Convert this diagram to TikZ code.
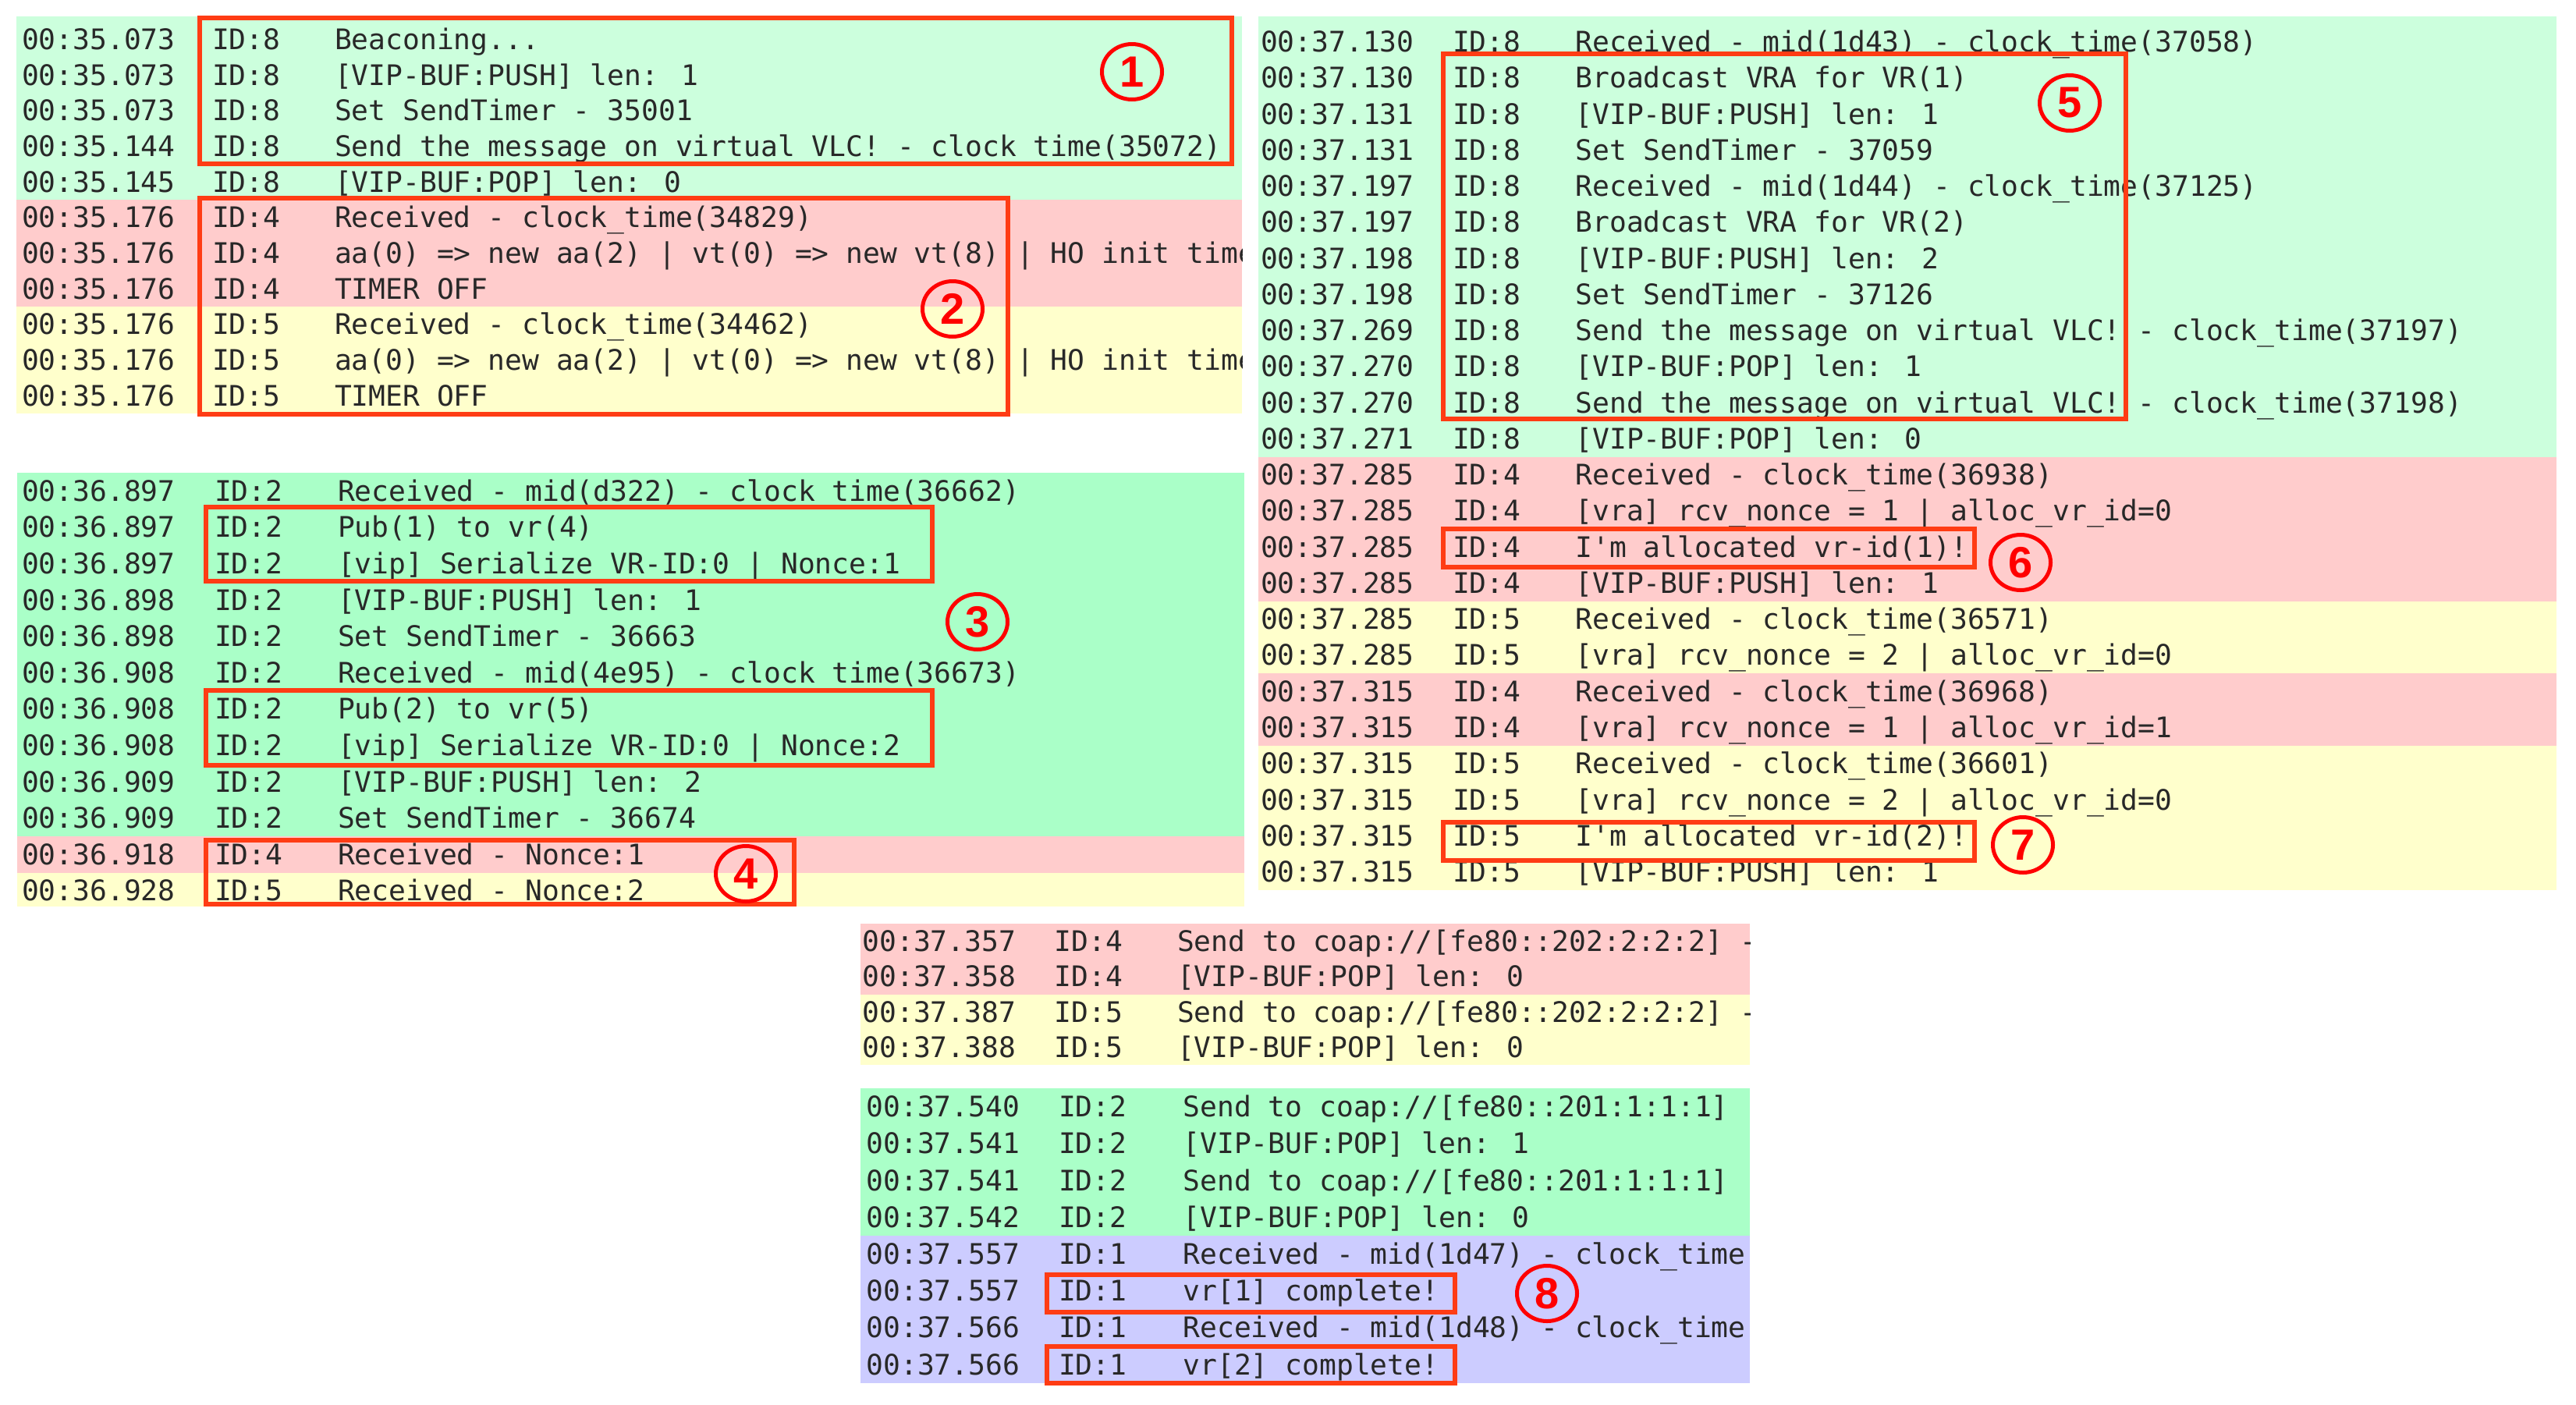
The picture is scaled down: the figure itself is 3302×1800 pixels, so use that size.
\documentclass[tikz,border=0pt]{standalone}
\usepackage{fontspec}
\usetikzlibrary{shapes.geometric}
\newfontfamily\logfont{DejaVu Sans Mono}
\newfontfamily\markfont{Liberation Sans}
\definecolor{bgGa}{RGB}{204,255,221}
\definecolor{bgGb}{RGB}{170,255,200}
\definecolor{bgR}{RGB}{255,204,204}
\definecolor{bgY}{RGB}{255,255,204}
\definecolor{bgB}{RGB}{204,204,255}
\definecolor{boxred}{RGB}{255,60,20}
\definecolor{markred}{RGB}{255,0,0}
\definecolor{logink}{RGB}{40,40,40}
\tikzset{
  logtext/.style={anchor=base west, inner sep=0pt, outer sep=0pt, text=logink,
    font=\logfont\fontsize{36.3}{40}\selectfont},
  hlbox/.style={draw=boxred, line width=6.5pt},
  numbadge/.style={ellipse, draw=markred, line width=5pt, minimum width=77pt,
    minimum height=71pt, inner sep=0pt, text=markred,
    font=\markfont\bfseries\fontsize{56}{60}\selectfont},
}
\newcommand\lrow[4]{%
  \pgfmathsetmacro\rowY{\rowZ+(#1-0.5)*\rowH+13}%
  \node[logtext] (\blk-#1-t) at (\colTs,\rowY) {#2};%
  \node[logtext] (\blk-#1-i) at (\colId,\rowY) {#3};%
  \node[logtext] (\blk-#1-m) at (\colMsg,\rowY) {#4};%
}
\begin{document}
\begin{tikzpicture}[x=1pt,y=-1pt]
\useasboundingbox (0,0) rectangle (3302,1800);
\fill[white] (0,0) rectangle (3302,1800);

% ---------------- Block A (top left)
\begin{scope}
\clip (21,21) rectangle (1592,530);
\fill[bgGa] (21,21) rectangle (1592,256);
\fill[bgR] (21,256) rectangle (1592,393);
\fill[bgY] (21,393) rectangle (1592,530);
\def\colTs{28}\def\colId{272}\def\colMsg{429}\def\rowZ{27.5}\def\rowH{45.7}\def\blk{a}
\lrow{1}{00:35.073}{ID:8}{Beaconing...}
\lrow{2}{00:35.073}{ID:8}{[VIP-BUF:PUSH] len: 1}
\lrow{3}{00:35.073}{ID:8}{Set SendTimer - 35001}
\lrow{4}{00:35.144}{ID:8}{Send the message on virtual VLC! - clock\_time(35072)}
\lrow{5}{00:35.145}{ID:8}{[VIP-BUF:POP] len: 0}
\lrow{6}{00:35.176}{ID:4}{Received - clock\_time(34829)}
\lrow{7}{00:35.176}{ID:4}{aa(0) => new aa(2) | vt(0) => new vt(8) | HO init time}
\lrow{8}{00:35.176}{ID:4}{TIMER OFF}
\lrow{9}{00:35.176}{ID:5}{Received - clock\_time(34462)}
\lrow{10}{00:35.176}{ID:5}{aa(0) => new aa(2) | vt(0) => new vt(8) | HO init time}
\lrow{11}{00:35.176}{ID:5}{TIMER OFF}
\end{scope}

% ---------------- Block B (lower left)
\begin{scope}
\clip (22,606) rectangle (1595,1162);
\fill[bgGb] (22,606) rectangle (1595,1072);
\fill[bgR] (22,1072) rectangle (1595,1118.6);
\fill[bgY] (22,1118.6) rectangle (1595,1162);
\def\colTs{28}\def\colId{275}\def\colMsg{433}\def\rowZ{606}\def\rowH{46.6}\def\blk{b}
\lrow{1}{00:36.897}{ID:2}{Received - mid(d322) - clock\_time(36662)}
\lrow{2}{00:36.897}{ID:2}{Pub(1) to vr(4)}
\lrow{3}{00:36.897}{ID:2}{[vip] Serialize VR-ID:0 | Nonce:1}
\lrow{4}{00:36.898}{ID:2}{[VIP-BUF:PUSH] len: 1}
\lrow{5}{00:36.898}{ID:2}{Set SendTimer - 36663}
\lrow{6}{00:36.908}{ID:2}{Received - mid(4e95) - clock\_time(36673)}
\lrow{7}{00:36.908}{ID:2}{Pub(2) to vr(5)}
\lrow{8}{00:36.908}{ID:2}{[vip] Serialize VR-ID:0 | Nonce:2}
\lrow{9}{00:36.909}{ID:2}{[VIP-BUF:PUSH] len: 2}
\lrow{10}{00:36.909}{ID:2}{Set SendTimer - 36674}
\lrow{11}{00:36.918}{ID:4}{Received - Nonce:1}
\lrow{12}{00:36.928}{ID:5}{Received - Nonce:2}
\end{scope}

% ---------------- Block C (right)
\begin{scope}
\clip (1613,21) rectangle (3277,1140.7);
\fill[bgGa] (1613,21) rectangle (3277,585.5);
\fill[bgR] (1613,585.5) rectangle (3277,770.6);
\fill[bgY] (1613,770.6) rectangle (3277,863.1);
\fill[bgR] (1613,863.1) rectangle (3277,955.6);
\fill[bgY] (1613,955.6) rectangle (3277,1140.7);
\def\colTs{1616}\def\colId{1862}\def\colMsg{2019.5}\def\rowZ{30.4}\def\rowH{46.26}\def\blk{c}
\lrow{1}{00:37.130}{ID:8}{Received - mid(1d43) - clock\_time(37058)}
\lrow{2}{00:37.130}{ID:8}{Broadcast VRA for VR(1)}
\lrow{3}{00:37.131}{ID:8}{[VIP-BUF:PUSH] len: 1}
\lrow{4}{00:37.131}{ID:8}{Set SendTimer - 37059}
\lrow{5}{00:37.197}{ID:8}{Received - mid(1d44) - clock\_time(37125)}
\lrow{6}{00:37.197}{ID:8}{Broadcast VRA for VR(2)}
\lrow{7}{00:37.198}{ID:8}{[VIP-BUF:PUSH] len: 2}
\lrow{8}{00:37.198}{ID:8}{Set SendTimer - 37126}
\lrow{9}{00:37.269}{ID:8}{Send the message on virtual VLC! - clock\_time(37197)}
\lrow{10}{00:37.270}{ID:8}{[VIP-BUF:POP] len: 1}
\lrow{11}{00:37.270}{ID:8}{Send the message on virtual VLC! - clock\_time(37198)}
\lrow{12}{00:37.271}{ID:8}{[VIP-BUF:POP] len: 0}
\lrow{13}{00:37.285}{ID:4}{Received - clock\_time(36938)}
\lrow{14}{00:37.285}{ID:4}{[vra] rcv\_nonce = 1 | alloc\_vr\_id=0}
\lrow{15}{00:37.285}{ID:4}{I\textquotesingle m allocated vr-id(1)!}
\lrow{16}{00:37.285}{ID:4}{[VIP-BUF:PUSH] len: 1}
\lrow{17}{00:37.285}{ID:5}{Received - clock\_time(36571)}
\lrow{18}{00:37.285}{ID:5}{[vra] rcv\_nonce = 2 | alloc\_vr\_id=0}
\lrow{19}{00:37.315}{ID:4}{Received - clock\_time(36968)}
\lrow{20}{00:37.315}{ID:4}{[vra] rcv\_nonce = 1 | alloc\_vr\_id=1}
\lrow{21}{00:37.315}{ID:5}{Received - clock\_time(36601)}
\lrow{22}{00:37.315}{ID:5}{[vra] rcv\_nonce = 2 | alloc\_vr\_id=0}
\lrow{23}{00:37.315}{ID:5}{I\textquotesingle m allocated vr-id(2)!}
\lrow{24}{00:37.315}{ID:5}{[VIP-BUF:PUSH] len: 1}
\end{scope}

% ---------------- Block D1 (bottom, upper part)
\begin{scope}
\clip (1103,1184) rectangle (2243,1365);
\fill[bgR] (1103,1184) rectangle (2243,1274.6);
\fill[bgY] (1103,1274.6) rectangle (2243,1365);
\def\colTs{1105.5}\def\colId{1351.5}\def\colMsg{1509}\def\rowZ{1184}\def\rowH{45.3}\def\blk{d}
\lrow{1}{00:37.357}{ID:4}{Send to coap://[fe80::202:2:2:2] -}
\lrow{2}{00:37.358}{ID:4}{[VIP-BUF:POP] len: 0}
\lrow{3}{00:37.387}{ID:5}{Send to coap://[fe80::202:2:2:2] -}
\lrow{4}{00:37.388}{ID:5}{[VIP-BUF:POP] len: 0}
\end{scope}

% ---------------- Block D2 (bottom, lower part)
\begin{scope}
\clip (1103,1395) rectangle (2243,1772.6);
\fill[bgGb] (1103,1395) rectangle (2243,1583.8);
\fill[bgB] (1103,1583.8) rectangle (2243,1772.6);
\def\colTs{1110.5}\def\colId{1357}\def\colMsg{1516.5}\def\rowZ{1395}\def\rowH{47.2}\def\blk{e}
\lrow{1}{00:37.540}{ID:2}{Send to coap://[fe80::201:1:1:1]}
\lrow{2}{00:37.541}{ID:2}{[VIP-BUF:POP] len: 1}
\lrow{3}{00:37.541}{ID:2}{Send to coap://[fe80::201:1:1:1]}
\lrow{4}{00:37.542}{ID:2}{[VIP-BUF:POP] len: 0}
\lrow{5}{00:37.557}{ID:1}{Received - mid(1d47) - clock\_time(37}
\lrow{6}{00:37.557}{ID:1}{vr[1] complete!}
\lrow{7}{00:37.566}{ID:1}{Received - mid(1d48) - clock\_time(37}
\lrow{8}{00:37.566}{ID:1}{vr[2] complete!}
\end{scope}

% ---------------- highlight boxes
\draw[hlbox] (256,23) rectangle (1579,210);
\draw[hlbox] (256,254) rectangle (1292,531);
\draw[hlbox] (264,650) rectangle (1195,745);
\draw[hlbox] (264,885) rectangle (1195,981);
\draw[hlbox] (264,1077) rectangle (1018,1159);
\draw[hlbox] (1850,69) rectangle (2725,537);
\draw[hlbox] (1850,678) rectangle (2531,727);
\draw[hlbox] (1850,1054) rectangle (2531,1103);
\draw[hlbox] (1342,1634) rectangle (1865,1682);
\draw[hlbox] (1342,1726) rectangle (1865,1773);

% ---------------- numbered badges
\node[numbadge] (m1) at (1451,92) {1};
\node[numbadge] (m2) at (1221,396) {2};
\node[numbadge] (m3) at (1253,797) {3};
\node[numbadge] (m4) at (956,1120) {4};
\node[numbadge] (m5) at (2653,132) {5};
\node[numbadge] (m6) at (2590,721) {6};
\node[numbadge] (m7) at (2593,1083) {7};
\node[numbadge] (m8) at (1983,1658) {8};
\end{tikzpicture}
\end{document}
